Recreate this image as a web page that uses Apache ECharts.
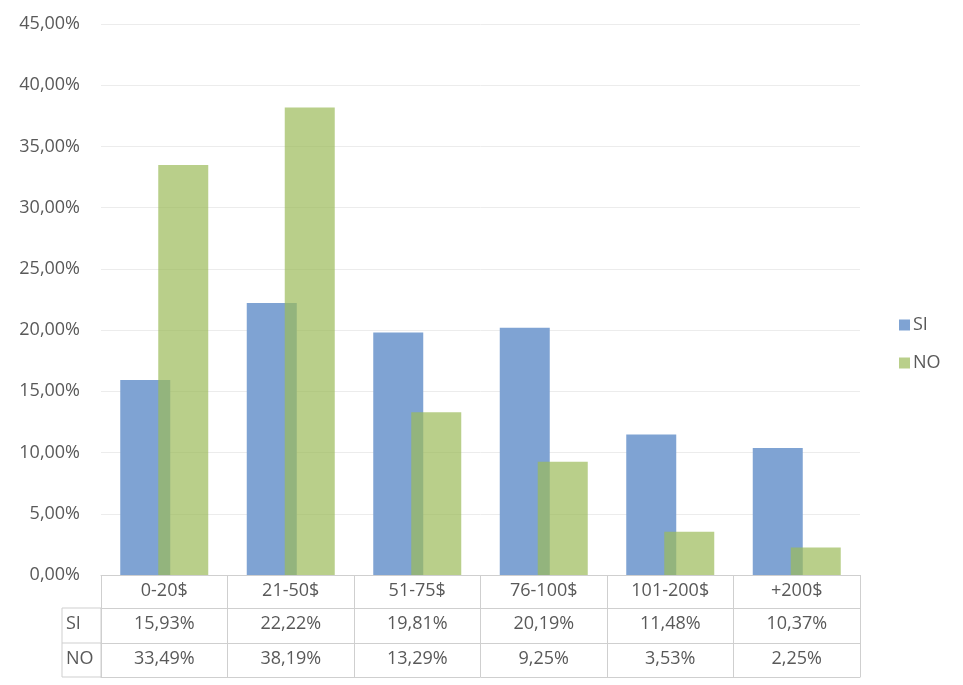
<!DOCTYPE html>
<html>
<head>
<meta charset="utf-8">
<script src="https://cdn.jsdelivr.net/npm/echarts@6/dist/echarts.min.js"></script>
<style>html,body{margin:0;padding:0;background:#fff}#c{width:963px;height:685px}</style>
</head>
<body>
<div id="c"></div>
<script>
const categories = ['0-20$', '21-50$', '51-75$', '76-100$', '101-200$', '+200$'];
const siValues = [15.93, 22.22, 19.81, 20.19, 11.48, 10.37];
const noValues = [33.49, 38.19, 13.29, 9.25, 3.53, 2.25];
const seriesNames = ['SI', 'NO'];
const yTicks = { min: 0, max: 45, interval: 5 };

const fmt = v => v.toFixed(2).replace('.', ',') + '%';
const FONT = '"Open Sans", sans-serif';
const TXT = '#595959';
const BORDER = '#cfcfcf';

const chart = echarts.init(document.getElementById('c'));
const gridLeft = 101, gridRight = 103, gridTop = 24, gridBottom = 110;
const axisY = 685 - gridBottom;

chart.setOption({
  animation: false,
  backgroundColor: '#fff',
  textStyle: { fontFamily: FONT },
  grid: { left: gridLeft, right: gridRight, top: gridTop, bottom: gridBottom, containLabel: false },
  legend: {
    orient: 'vertical', left: 894, top: 311,
    itemWidth: 11, itemHeight: 11, itemGap: 20, icon: 'rect',
    data: seriesNames,
    textStyle: { fontFamily: FONT, fontSize: 18, color: TXT, padding: [0, 0, 0, -2] }
  },
  xAxis: [
    {
      type: 'category', data: categories, position: 'bottom',
      axisLine: { show: true, lineStyle: { color: BORDER, width: 1 } },
      axisTick: { show: true, length: 102, interval: 0, lineStyle: { color: BORDER } },
      axisLabel: { interval: 0, margin: 7, fontFamily: FONT, fontSize: 18, color: TXT }
    },
    {
      type: 'category', data: siValues.map(fmt), position: 'bottom', offset: 33,
      axisLine: { show: true, lineStyle: { color: BORDER, width: 1 } },
      axisTick: { show: false },
      axisLabel: { interval: 0, margin: 7, fontFamily: FONT, fontSize: 18, color: TXT }
    },
    {
      type: 'category', data: noValues.map(fmt), position: 'bottom', offset: 68,
      axisLine: { show: true, lineStyle: { color: BORDER, width: 1 } },
      axisTick: { show: false },
      axisLabel: { interval: 0, margin: 7, fontFamily: FONT, fontSize: 18, color: TXT }
    },
    {
      type: 'category', data: categories.map(() => ''), position: 'bottom', offset: 102,
      axisLine: { show: true, lineStyle: { color: BORDER, width: 1 } },
      axisTick: { show: false },
      axisLabel: { show: false }
    }
  ],
  yAxis: {
    type: 'value', min: yTicks.min, max: yTicks.max, interval: yTicks.interval,
    axisLine: { show: false }, axisTick: { show: false },
    axisLabel: { formatter: v => fmt(v), margin: 21, fontFamily: FONT, fontSize: 18, color: TXT },
    splitLine: { lineStyle: { color: '#ececec', width: 1 } }
  },
  series: [
    {
      name: seriesNames[0], type: 'bar', data: siValues, xAxisIndex: 0,
      barWidth: 50, barGap: '-24%',
      itemStyle: { color: '#7fa3d3' }
    },
    {
      name: seriesNames[1], type: 'bar', data: noValues, xAxisIndex: 0,
      barWidth: 50, barGap: '-24%',
      itemStyle: { color: 'rgba(155,187,89,0.7)' }
    }
  ],
  graphic: [
    { type: 'rect', shape: { x: 62, y: axisY + 33, width: gridLeft - 62, height: 69 },
      style: { fill: 'none', stroke: BORDER, lineWidth: 1 } },
    { type: 'line', shape: { x1: 62, y1: axisY + 68, x2: gridLeft, y2: axisY + 68 },
      style: { stroke: BORDER, lineWidth: 1 } },
    { type: 'text', left: 66, top: axisY + 40,
      style: { text: seriesNames[0], font: '18px ' + FONT, fill: TXT } },
    { type: 'text', left: 66, top: axisY + 75,
      style: { text: seriesNames[1], font: '18px ' + FONT, fill: TXT } }
  ]
});
</script>
</body>
</html>
